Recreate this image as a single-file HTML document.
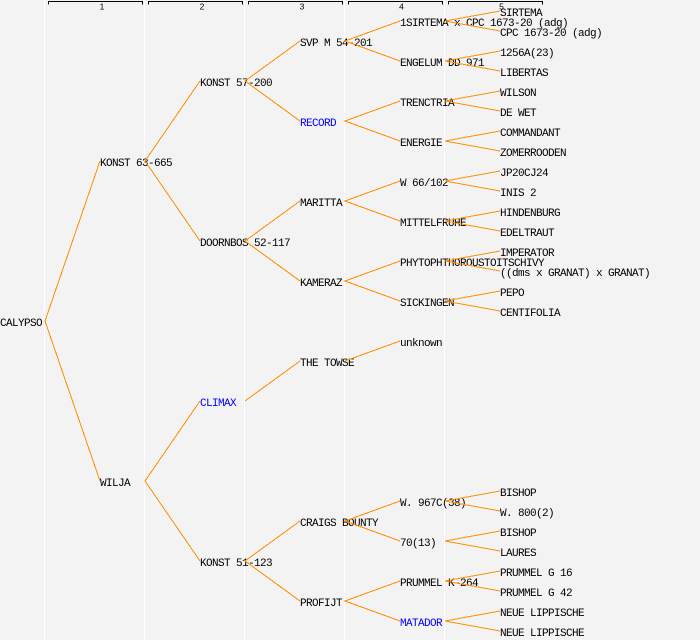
<!DOCTYPE html>
<html>
<head>
<meta charset="utf-8">
<style>
  html, body { margin: 0; padding: 0; background: #f3f3f3; }
  svg { display: block; }
  .t { font-family: "Liberation Mono", "DejaVu Sans Mono", monospace; font-size: 11px; letter-spacing: -0.6px; fill: #000; }
  .b { fill: #0000ff; }
  .n { font-family: "Liberation Sans", "DejaVu Sans", sans-serif; font-size: 8.5px; fill: #000; }
</style>
</head>
<body>
<svg width="700" height="640" viewBox="0 0 700 640" xmlns="http://www.w3.org/2000/svg">
  <rect x="0" y="0" width="700" height="640" fill="#f3f3f3"/>
  <!-- column separators -->
  <g stroke="#ffffff" stroke-width="1">
    <line x1="44.5" y1="0" x2="44.5" y2="640"/>
    <line x1="144.5" y1="0" x2="144.5" y2="640"/>
    <line x1="244.5" y1="0" x2="244.5" y2="640"/>
    <line x1="344.5" y1="0" x2="344.5" y2="640"/>
    <line x1="444.5" y1="0" x2="444.5" y2="640"/>
  </g>
  <!-- generation brackets -->
  <g stroke="#000" stroke-width="1" fill="none">
    <path d="M48.5 4.5 V1.5 H142.5 V4.5"/>
    <path d="M148.5 4.5 V1.5 H242.5 V4.5"/>
    <path d="M248.5 4.5 V1.5 H342.5 V4.5"/>
    <path d="M348.5 4.5 V1.5 H442.5 V4.5"/>
    <path d="M448.5 4.5 V1.5 H542.5 V4.5"/>
  </g>
  <text class="n" x="102" y="9.5" text-anchor="middle">1</text>
  <text class="n" x="202" y="9.5" text-anchor="middle">2</text>
  <text class="n" x="302" y="9.5" text-anchor="middle">3</text>
  <text class="n" x="401.5" y="9.5" text-anchor="middle">4</text>
  <text class="n" x="501.5" y="9.5" text-anchor="middle">5</text>

  <!-- labels -->
  <g class="t">
    <text x="0" y="326">CALYPSO</text>

    <text x="100" y="166">KONST 63-665</text>
    <text x="100" y="486">WILJA</text>

    <text x="200" y="86">KONST 57-200</text>
    <text x="200" y="246">DOORNBOS 52-117</text>
    <text x="200" y="406" class="t b">CLIMAX</text>
    <text x="200" y="566">KONST 51-123</text>

    <text x="300" y="46">SVP M 54-201</text>
    <text x="300" y="126" class="t b">RECORD</text>
    <text x="300" y="206">MARITTA</text>
    <text x="300" y="286">KAMERAZ</text>
    <text x="300" y="366">THE TOWSE</text>
    <text x="300" y="526">CRAIGS BOUNTY</text>
    <text x="300" y="606">PROFIJT</text>

    <text x="400" y="26">1SIRTEMA x CPC 1673-20 (adg)</text>
    <text x="400" y="66">ENGELUM DD 971</text>
    <text x="400" y="106">TRENCTRIA</text>
    <text x="400" y="146">ENERGIE</text>
    <text x="400" y="186">W 66/102</text>
    <text x="400" y="226">MITTELFRUHE</text>
    <text x="400" y="266">PHYTOPHTHOROUSTOITSCHIVY</text>
    <text x="400" y="306">SICKINGEN</text>
    <text x="400" y="346">unknown</text>
    <text x="400" y="506">W. 967C(38)</text>
    <text x="400" y="546">70(13)</text>
    <text x="400" y="586">PRUMMEL K-264</text>
    <text x="400" y="626" class="t b">MATADOR</text>

    <text x="500" y="16">SIRTEMA</text>
    <text x="500" y="36">CPC 1673-20 (adg)</text>
    <text x="500" y="56">1256A(23)</text>
    <text x="500" y="76">LIBERTAS</text>
    <text x="500" y="96">WILSON</text>
    <text x="500" y="116">DE WET</text>
    <text x="500" y="136">COMMANDANT</text>
    <text x="500" y="156">ZOMERROODEN</text>
    <text x="500" y="176">JP20CJ24</text>
    <text x="500" y="196">INIS 2</text>
    <text x="500" y="216">HINDENBURG</text>
    <text x="500" y="236">EDELTRAUT</text>
    <text x="500" y="256">IMPERATOR</text>
    <text x="500" y="276">((dms x GRANAT) x GRANAT)</text>
    <text x="500" y="296">PEPO</text>
    <text x="500" y="316">CENTIFOLIA</text>
    <text x="500" y="496">BISHOP</text>
    <text x="500" y="516">W. 800(2)</text>
    <text x="500" y="536">BISHOP</text>
    <text x="500" y="556">LAURES</text>
    <text x="500" y="576">PRUMMEL G 16</text>
    <text x="500" y="596">PRUMMEL G 42</text>
    <text x="500" y="616">NEUE LIPPISCHE</text>
    <text x="500" y="636">NEUE LIPPISCHE</text>
  </g>

  <!-- connectors -->
  <g stroke="#ff8c00" stroke-width="1" fill="none" shape-rendering="crispEdges">
    <!-- gen0 -> gen1 -->
    <path d="M100 161 L45 321 L100 481"/>
    <!-- gen1 -> gen2 -->
    <path d="M200 81 L145 161 L200 241"/>
    <path d="M200 401 L145 481 L200 561"/>
    <!-- gen2 -> gen3 -->
    <path d="M300 41 L245 81 L300 121"/>
    <path d="M300 201 L245 241 L300 281"/>
    <path d="M300 361 L245 401"/>
    <path d="M300 521 L245 561 L300 601"/>
    <!-- gen3 -> gen4 -->
    <path d="M400 21 L345 41 L400 61"/>
    <path d="M400 101 L345 121 L400 141"/>
    <path d="M400 181 L345 201 L400 221"/>
    <path d="M400 261 L345 281 L400 301"/>
    <path d="M400 341 L345 361"/>
    <path d="M400 501 L345 521 L400 541"/>
    <path d="M400 581 L345 601 L400 621"/>
    <!-- gen4 -> gen5 -->
    <path d="M500 11 L445 21 L500 31"/>
    <path d="M500 51 L445 61 L500 71"/>
    <path d="M500 91 L445 101 L500 111"/>
    <path d="M500 131 L445 141 L500 151"/>
    <path d="M500 171 L445 181 L500 191"/>
    <path d="M500 211 L445 221 L500 231"/>
    <path d="M500 251 L445 261 L500 271"/>
    <path d="M500 291 L445 301 L500 311"/>
    <path d="M500 491 L445 501 L500 511"/>
    <path d="M500 531 L445 541 L500 551"/>
    <path d="M500 571 L445 581 L500 591"/>
    <path d="M500 611 L445 621 L500 631"/>
  </g>
</svg>
</body>
</html>
